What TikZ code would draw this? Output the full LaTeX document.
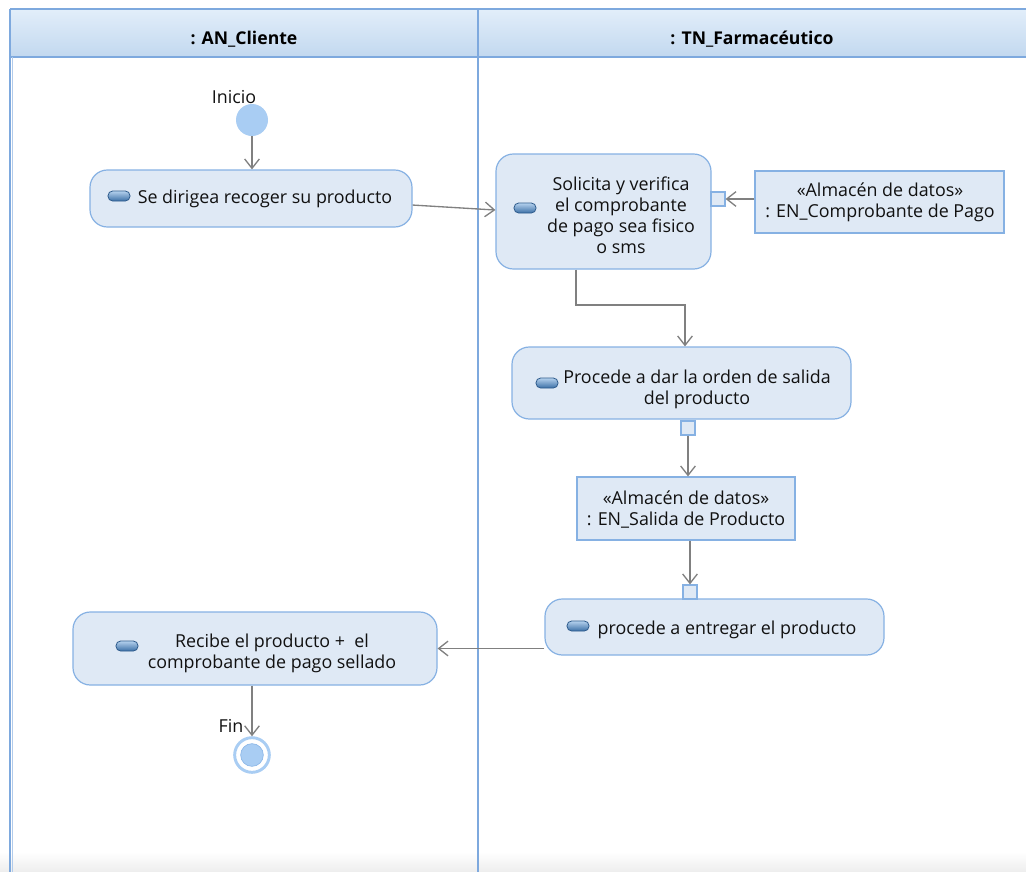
\documentclass[tikz,border=0pt]{standalone}
\usepackage{fontspec}
\setmainfont{Open Sans}
\usetikzlibrary{arrows.meta,fit}
\definecolor{laneline}{HTML}{7EA9DE}
\definecolor{headtop}{HTML}{E2EEFA}
\definecolor{headbot}{HTML}{C2D8EF}
\definecolor{actfill}{HTML}{DFE9F5}
\definecolor{actline}{HTML}{86B1E3}
\definecolor{flowc}{HTML}{808080}
\definecolor{initc}{HTML}{A9CDF3}
\definecolor{initdark}{HTML}{8DB8E8}
\definecolor{textc}{HTML}{111111}
\definecolor{icontop}{HTML}{B5D2EE}
\definecolor{iconbot}{HTML}{3C6FA6}
\definecolor{iconline}{HTML}{2E5B8C}
\begin{document}
\begin{tikzpicture}[x=0.75pt,y=-0.75pt,
  act/.style={draw=actline, fill=actfill, rounded corners=13pt, line width=0.9pt, inner sep=0pt},
  store/.style={draw=actline, fill=actfill, line width=0.9pt, inner sep=0pt},
  pin/.style={draw=actline, fill=actfill, line width=0.9pt, minimum size=10.5pt, inner sep=0pt},
  txt/.style={font=\fontsize{13.4}{15.75}\selectfont, align=center, inner sep=0pt, text=textc, yshift=-1.5pt},
  head/.style={font=\fontsize{13.2}{15}\selectfont\bfseries, inner sep=0pt, text=black},
  flow/.style={draw=flowc, line width=1pt, -{Straight Barb[length=7pt,width=11pt,line width=1pt]}},
  icon/.style={rectangle, rounded corners=3.5pt, minimum width=16.5pt, minimum height=7.5pt,
    top color=icontop, bottom color=iconbot, draw=iconline, line width=0.6pt, inner sep=0pt}]
\useasboundingbox (0,0) rectangle (1026,872);

% swimlane frame and headers
\shade[top color=headtop, bottom color=headbot] (10,9) rectangle (1026,57);
\shade[top color=white, bottom color=black!7] (0,852) rectangle (1026,872);
\draw[laneline, line width=0.9pt] (10,9) -- (1026,9);
\draw[laneline, line width=0.9pt] (10,57) -- (1026,57);
\draw[laneline, line width=0.9pt] (10,9) -- (10,872);
\draw[laneline!60, line width=0.6pt] (12,57) -- (12,872);
\draw[laneline, line width=0.9pt] (478,9) -- (478,872);
\node[head] (h1) at (244,39) {: AN\_Cliente};
\node[head] (h2) at (752,39) {: TN\_Farmacéutico};

% start node
\node[circle, fill=initc, minimum size=24pt, inner sep=0pt] (ini) at (252,120) {};
\node[txt] (inilab) at (234,95) {Inicio};

% activity: Se dirigea recoger su producto
\node[act, fit={(90,170) (412,227)}] (a1) {};
\node[icon] (i1) at (119,196) {};
\node[txt] (t1) at (265,197) {Se dirigea recoger su producto};

% activity: Solicita y verifica
\node[act, fit={(496,154) (711,269)}] (a2) {};
\node[icon] (i2) at (525,208) {};
\node[txt] (t2) at (621,213) {Solicita y verifica\\el comprobante\\de pago sea fisico\\o sms};
\node[pin] (p1) at (718,199) {};

% data store: comprobante
\node[store, fit={(755,171) (1004,233)}] (ds1) {};
\node[txt] (t3) at (880,200) {«Almacén de datos»\\: EN\_Comprobante de Pago};

% activity: Procede a dar la orden
\node[act, fit={(512,347) (851,419)}] (a3) {};
\node[icon] (i3) at (547,383) {};
\node[txt] (t4) at (697,387) {Procede a dar la orden de salida\\del producto};
\node[pin] (p2) at (688,428) {};

% data store: salida de producto
\node[store, fit={(577,477) (795,540)}] (ds2) {};
\node[txt] (t5) at (686,508) {«Almacén de datos»\\: EN\_Salida de Producto};

% activity: procede a entregar
\node[act, fit={(545,599) (884,655)}] (a4) {};
\node[icon] (i4) at (578,626) {};
\node[txt] (t6) at (727,628) {procede a entregar el producto};
\node[pin] (p3) at (690,592) {};

% activity: Recibe el producto
\node[act, fit={(73,612) (437,685)}] (a5) {};
\node[icon] (i5) at (127,646) {};
\node[txt] (t7) at (272,651) {Recibe el producto +\ \ el\\comprobante de pago sellado};

% final node
\node[circle, draw=initc, line width=2.2pt, fill=white, minimum size=26pt, inner sep=0pt] (fin) at (252,755) {};
\node[circle, fill=initc, draw=initdark, line width=0.5pt, minimum size=17pt, inner sep=0pt] (fincore) at (fin) {};
\node[txt] (finlab) at (231,724) {Fin};

% control and object flows
\coordinate (k1) at (576,305);
\coordinate (k2) at (685,305);
\draw[flow] (ini.south) -- (ini.south |- a1.north);
\draw[flow] ([yshift=-4.9pt]a1.east) -- ([yshift=1.1pt]a2.west);
\draw[flow] (ds1.west |- p1) -- (p1.east);
\draw[flow] (a2.south -| k1) -- (k1) -- (k2) -- (k2 |- a3.north);
\draw[flow] (p2.south) -- (p2.south |- ds2.north);
\draw[flow] (ds2.south -| p3) -- (p3.north);
\draw[flow] (a4.west |- a5.east) -- (a5.east);
\draw[flow] (a5.south -| fin) -- (fin.north);
\end{tikzpicture}
\end{document}
